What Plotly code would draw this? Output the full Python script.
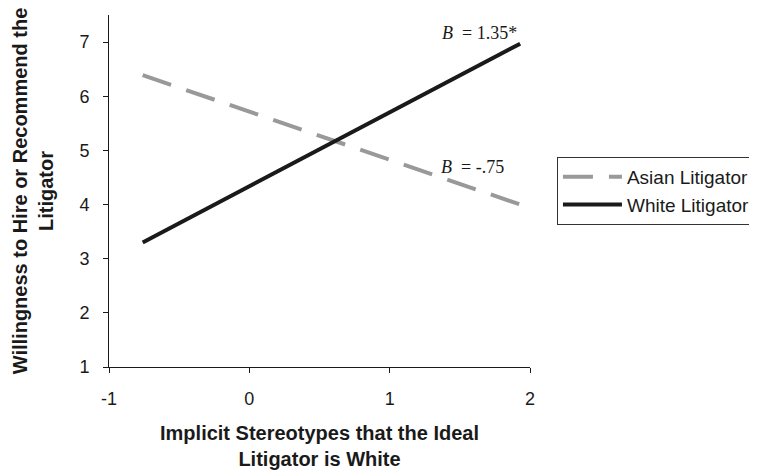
import plotly.graph_objects as go

x_vals = [-0.76, 1.93]
asian_y = [6.39, 4.0]
white_y = [3.3, 6.97]
x_ticks = [-1, 0, 1, 2]
x_tick_labels = ["-1", "0", "1", "2"]
y_ticks = [1, 2, 3, 4, 5, 6, 7]

fig = go.Figure()
fig.add_trace(go.Scatter(x=x_vals, y=asian_y, mode="lines", name="Asian Litigator",
                         line=dict(color="#999999", width=4, dash="30px,16px")))
fig.add_trace(go.Scatter(x=x_vals, y=white_y, mode="lines", name="White Litigator",
                         line=dict(color="#1a1a1a", width=4)))

ann_font = dict(family="Liberation Serif", size=18, color="#1a1a1a")
fig.add_annotation(x=1.643, y=7.16, text="<i>B</i>  = 1.35*", showarrow=False,
                   font=ann_font, xanchor="center", yanchor="middle")
fig.add_annotation(x=1.593, y=4.69, text="<i>B</i>  = -.75", showarrow=False,
                   font=ann_font, xanchor="center", yanchor="middle")

fig.update_layout(
    width=800, height=465,
    margin=dict(l=101, r=278, t=7, b=106),
    paper_bgcolor="white", plot_bgcolor="white",
    font=dict(family="Liberation Sans, Arial", size=18, color="#1a1a1a"),
    showlegend=True,
    legend=dict(x=1.064, y=0.597, xanchor="left", yanchor="top",
                bordercolor="#333333", borderwidth=1, bgcolor="white",
                font=dict(size=19), tracegroupgap=0, itemwidth=59),
    xaxis=dict(range=[-1, 2], tickvals=x_ticks, ticktext=x_tick_labels,
               showgrid=False, zeroline=False,
               showline=True, linecolor="#1a1a1a", linewidth=1, automargin=False,
               ticks="outside", ticklen=5, tickcolor="#1a1a1a", ticklabelstandoff=10,
               tickfont=dict(size=18),
               title=dict(text="<b>Implicit Stereotypes that the Ideal<br>Litigator is White</b>",
                          font=dict(size=20), standoff=18)),
    yaxis=dict(range=[1, 7.5], tickvals=y_ticks, showgrid=False, zeroline=False,
               showline=True, linecolor="#1a1a1a", linewidth=1, automargin=False,
               ticks="outside", ticklen=5, tickcolor="#1a1a1a", ticklabelstandoff=10,
               tickfont=dict(size=18),
               title=dict(text="<b>Willingness to Hire or Recommend the<br>Litigator</b>",
                          font=dict(size=20), standoff=20)),
)

fig.write_html("out.html")
